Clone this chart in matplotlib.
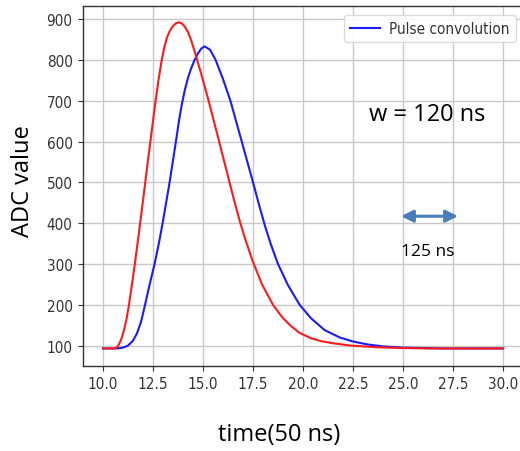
import matplotlib
matplotlib.use("Agg")
import matplotlib.pyplot as plt
from matplotlib import font_manager
from matplotlib.font_manager import FontProperties

# ---- data -------------------------------------------------------------
red_t = [10.0, 10.5, 10.6, 10.7, 10.8, 10.92, 11.05, 11.18, 11.3, 11.45,
         11.6, 11.8, 12.0, 12.2, 12.4, 12.63, 12.78, 12.92, 13.05, 13.2,
         13.35, 13.5, 13.65, 13.8, 13.95, 14.1, 14.25, 14.4, 14.55, 14.72,
         15.0, 15.28, 15.78, 16.3, 16.6, 16.85, 17.15, 17.5, 17.95, 18.5,
         18.95, 19.35, 19.83, 20.4, 20.9, 21.45, 22.4, 23.7, 25.0, 26.5,
         30.0]
red_v = [93, 93, 93.5, 96, 103, 116, 138, 166, 200, 250,
         303, 378, 455, 535, 612, 700, 752, 795, 828, 855,
         872, 883, 890, 892, 889, 881, 868, 849, 826, 798,
         750, 700, 605, 505, 448, 403, 355, 305, 250, 200,
         170, 150, 131, 118, 111, 106, 100, 96, 94, 93,
         93]

blue_t = [10.0, 10.7, 11.0, 11.25, 11.5, 11.7, 11.9, 12.08, 12.3, 12.58,
          12.8, 13.0, 13.33, 13.63, 13.8, 13.95, 14.1, 14.25, 14.4, 14.58,
          14.75, 14.92, 15.08, 15.35, 15.63, 16.0, 16.37, 16.92, 17.5, 17.83,
          18.1, 18.4, 18.75, 19.25, 19.83, 20.4, 21.08, 21.83, 22.5, 23.2,
          24.0, 25.0, 26.0, 27.0, 30.0]
blue_v = [93, 93, 95, 100, 112, 130, 158, 195, 243, 300,
          352, 405, 500, 595, 651, 693, 728, 756, 778, 800,
          816, 828, 833, 825, 800, 753, 700, 603, 500, 440,
          393, 347, 300, 248, 200, 167, 138, 120, 110, 103,
          98, 95, 94, 93, 93]

x_ticks = [10.0, 12.5, 15.0, 17.5, 20.0, 22.5, 25.0, 27.5, 30.0]
y_ticks = [100, 200, 300, 400, 500, 600, 700, 800, 900]

legend_label = "Pulse convolution"
width_note = "w = 120 ns"
span_note = "125 ns"
x_label = "time(50 ns)"
y_label = "ADC value"

# ---- fonts ------------------------------------------------------------
# prefer a condensed sans face for the tick/legend text when one is present
tick_prop = None
for entry in font_manager.fontManager.ttflist:
    if entry.name in ("DejaVu Sans", "Liberation Sans Narrow") and \
            "ondensed" in entry.fname + str(entry.stretch) and entry.weight in (400, "normal") \
            and entry.style == "normal":
        tick_prop = FontProperties(fname=entry.fname, size=11)
        break
if tick_prop is None:
    tick_prop = FontProperties(family="DejaVu Sans", size=10)
note_family = "Open Sans"

W, H = 520, 452
fig = plt.figure(figsize=(W / 100, H / 100), dpi=100)
fig.patch.set_facecolor("white")

# axes box in pixel coordinates (left, top, right, bottom)
L, T, R, B = 83, 7, 523, 367
ax = fig.add_axes([L / W, 1 - B / H, (R - L) / W, (B - T) / H])

ax.plot(blue_t, blue_v, color="#1a1aff", lw=1.5, label=legend_label, zorder=3,
        solid_joinstyle="round")
ax.plot(red_t, red_v, color="#ff1a1a", lw=1.5, zorder=3, solid_joinstyle="round")

ax.set_xlim(9.0, 31.0)
ax.set_ylim(50, 932)
ax.set_xticks(x_ticks)
ax.set_yticks(y_ticks)
ax.set_xticklabels([f"{v:.1f}" for v in x_ticks])
ax.set_yticklabels([str(v) for v in y_ticks])
for lab in ax.get_xticklabels() + ax.get_yticklabels():
    lab.set_fontproperties(tick_prop)
    lab.set_color("#333333")

ax.grid(True, color="#c8c8c8", lw=1.0)
ax.set_axisbelow(True)
for side in ("left", "bottom", "top"):
    ax.spines[side].set_color("#333333")
    ax.spines[side].set_linewidth(1.0)
ax.spines["right"].set_visible(False)
ax.tick_params(colors="#333333", length=3.5, width=0.8, pad=4)

leg = ax.legend(loc="upper right", bbox_to_anchor=((516 - L) / (R - L), 1 - (16 - T) / (B - T)),
                borderaxespad=0, handlelength=2.0, handletextpad=0.6,
                prop=tick_prop, frameon=True,
                fancybox=True, framealpha=0.9, borderpad=0.4)
leg.get_frame().set_edgecolor("#d8d8d8")
for txt in leg.get_texts():
    txt.set_color("#333333")

# double-headed arrow marking the 125 ns span
ax.annotate("", xy=(27.75, 417), xytext=(24.9, 417),
            arrowprops=dict(arrowstyle="<|-|>", color="#4a7ebb", lw=2.2,
                            mutation_scale=18, shrinkA=0, shrinkB=0))

def px_text(x, y, s, size, **kw):
    fig.text(x / W, 1 - y / H, s, fontsize=size, family=note_family,
             ha="center", va="center", color="black", **kw)

px_text(427, 115, width_note, 17)
px_text(428, 252, span_note, 12.5)
px_text(279, 435, x_label, 17)
px_text(23, 181, y_label, 17, rotation=90)

fig.savefig("out.png", dpi=100, facecolor="white")
